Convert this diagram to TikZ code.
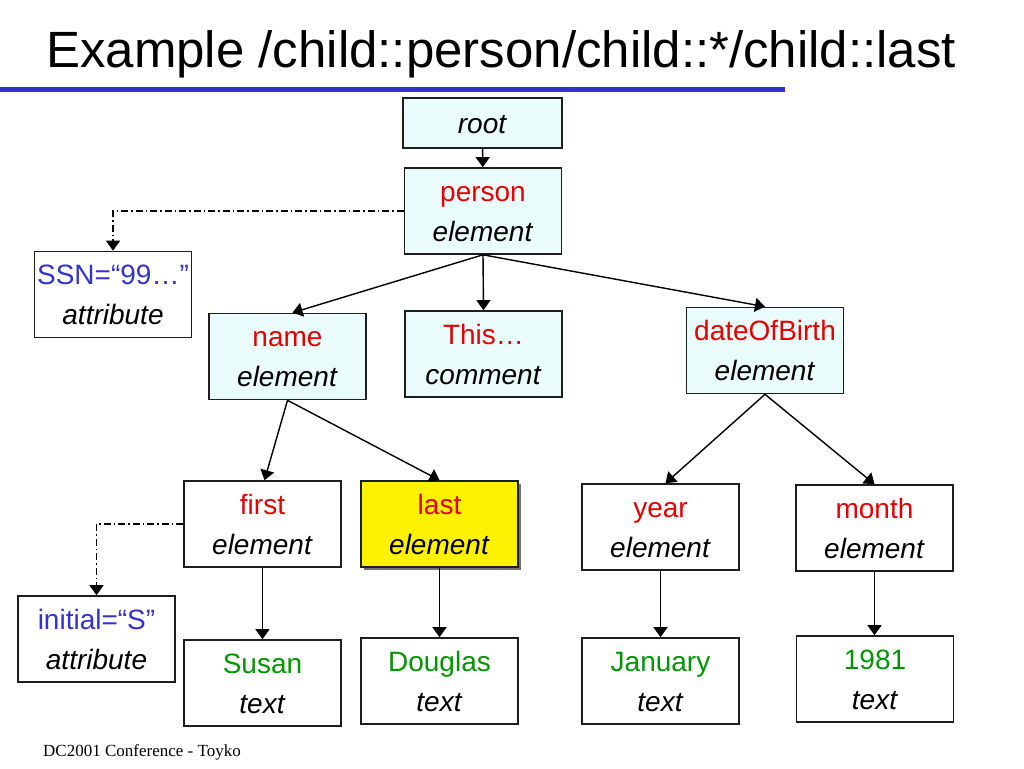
\documentclass[tikz,border=0pt]{standalone}
\usepackage{fontspec}
\setmainfont{Liberation Sans}
\newfontfamily\footserif{Liberation Serif}
\usetikzlibrary{arrows.meta,shadows}
\definecolor{boxcyan}{RGB}{234,251,251}
\definecolor{txtred}{RGB}{228,0,0}
\definecolor{txtblue}{RGB}{51,51,204}
\definecolor{txtgreen}{RGB}{0,150,0}
\definecolor{rulebl}{RGB}{51,51,204}
\definecolor{edgegray}{RGB}{30,30,30}
\newcommand\twol[3]{{\color{#1}\rule{0pt}{21pt}#2}\\\textit{#3}}
\begin{document}
\begin{tikzpicture}[x=1pt,y=-1pt,
 bx/.style={draw=edgegray,line width=1.6pt,minimum width=157pt,minimum height=86pt,inner sep=0pt,align=center,font=\fontsize{28}{40}\selectfont},
 cy/.style={bx,fill=boxcyan},
 wh/.style={bx,fill=white},
 arr/.style={line width=1.4pt,-{Triangle[width=14pt,length=10pt]}},
 dd/.style={arr,dash pattern=on 7pt off 3pt on 1.5pt off 3pt}]
\useasboundingbox (0,0) rectangle (1024,768);
\fill[white] (0,0) rectangle (1024,768);
\node[anchor=base west,inner sep=0pt,font=\fontsize{51}{60}\selectfont] (title) at (46,67) {Example /child::person/child::*/child::last};
\fill[rulebl] (0,87) rectangle (785,92);
\node[anchor=base west,inner sep=0pt,font=\footserif\fontsize{17}{20}\selectfont] (foot) at (43,756) {DC2001 Conference - Toyko};
% nodes
\node[cy,minimum width=159pt,minimum height=50pt] (root) at (482.5,123) {\rule{0pt}{21pt}\textit{root}};
\node[cy] (person) at (483,211) {\twol{txtred}{person}{element}};
\node[wh] (ssn) at (113,294.5) {\twol{txtblue}{SSN=“99…”}{attribute}};
\node[cy] (name) at (287.5,356.5) {\twol{txtred}{name}{element}};
\node[cy] (comment) at (483.5,354) {\twol{txtred}{This…}{comment}};
\node[cy] (dob) at (765,350.5) {\twol{txtred}{dateOfBirth}{element}};
\node[wh] (first) at (262.5,524) {\twol{txtred}{first}{element}};
\node[bx,fill=yellow,drop shadow={shadow xshift=2.5pt,shadow yshift=-2.5pt,fill=black!55,opacity=1}] (last) at (439.5,524) {\twol{txtred}{last}{element}};
\node[wh] (year) at (660.5,527) {\twol{txtred}{year}{element}};
\node[wh] (month) at (874.5,528) {\twol{txtred}{month}{element}};
\node[wh] (initial) at (96.5,639) {\twol{txtblue}{initial=“S”}{attribute}};
\node[wh] (susan) at (262.5,683) {\twol{txtgreen}{Susan}{text}};
\node[wh] (douglas) at (439.5,681) {\twol{txtgreen}{Douglas}{text}};
\node[wh] (january) at (660.5,681) {\twol{txtgreen}{January}{text}};
\node[wh] (y1981) at (875,679) {\twol{txtgreen}{1981}{text}};
% connectors
\draw[arr] (root) -- (person);
\draw[arr] (person.south) -- ([xshift=5pt]name.north);
\draw[arr] (person.south) -- (comment.north);
\draw[arr] (person.south) -- (dob.north);
\draw[arr] (name.south) -- ([xshift=2pt]first.north);
\draw[arr] (name.south) -- (last.north);
\draw[arr] (dob.south) -- ([xshift=5pt]year.north);
\draw[arr] (dob.south) -- (month.north);
\draw[arr] (first) -- (susan);
\draw[arr] (last) -- (douglas);
\draw[arr] (year) -- (january);
\draw[arr] (month.south) -- ([xshift=-0.5pt]y1981.north);
\draw[dd] (person.west) -| (ssn.north);
\draw[dd] (first.west) -| (initial.north);
\end{tikzpicture}
\end{document}
